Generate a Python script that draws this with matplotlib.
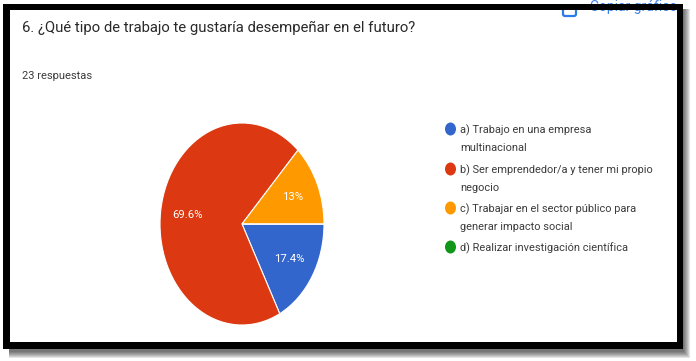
import matplotlib
matplotlib.use('Agg')
import matplotlib.pyplot as plt
from matplotlib.patches import Rectangle, Ellipse, FancyBboxPatch

title = '6. ¿Qué tipo de trabajo te gustaría desempeñar en el futuro?'
subtitle = '23 respuestas'
copy_label = 'Copiar gráfico'

counts = [4, 16, 3, 0]
colors = ['#3366cc', '#dc3912', '#ff9900', '#109618']
legend_lines = [
    ['a) Trabajo en una empresa', 'multinacional'],
    ['b) Ser emprendedor/a y tener mi propio', 'negocio'],
    ['c) Trabajar en el sector público para', 'generar impacto social'],
    ['d) Realizar investigación científica'],
]

W, H = 696, 361
plt.rcParams['font.family'] = ['Roboto', 'DejaVu Sans']

fig = plt.figure(figsize=(W / 100, H / 100), dpi=100, facecolor='white')

# overlay in pixel coords, y going down
bg = fig.add_axes([0, 0, 1, 1])
bg.set_xlim(0, W)
bg.set_ylim(H, 0)
bg.axis('off')

# soft shadow of the frame
for i in range(7):
    bg.add_patch(Rectangle((9, 9), 681 - i, 349 - i, fc='black', alpha=0.1, ec='none'))
bg.add_patch(Rectangle((3, 4), 680, 345, fc='black', ec='none'))
bg.add_patch(Rectangle((10, 10), 667, 332, fc='white', ec='none'))

# copy button is cut off by the frame in the screenshot
bg.text(590, 6.5, copy_label, color='#3b82e8', fontsize=10, ha='left', va='center')
bg.add_patch(FancyBboxPatch((563, 7), 13, 9, boxstyle='round,pad=0,rounding_size=2',
                            fc='none', ec='#2a7de8', lw=1.6))
bg.add_patch(Rectangle((3, 4), 680, 6, fc='black', ec='none', zorder=3))

bg.text(22.5, 28, title, fontsize=10.75, color='#2a2a2a', va='center', ha='left')
bg.text(22.5, 76, subtitle, fontsize=8.0, color='#3c3c3c', va='center', ha='left')


def pct_label(p):
    if p == 0:
        return ''
    return f'{p:.1f}'.rstrip('0').rstrip('.') + '%'


ax = fig.add_axes([160 / W, 1 - 325 / H, 164 / W, 202 / H])
wedges, texts, autotexts = ax.pie(counts, colors=colors, startangle=0, counterclock=False,
                                  autopct=pct_label, pctdistance=0.67,
                                  wedgeprops={'edgecolor': 'white', 'linewidth': 0.8},
                                  textprops={'color': 'white', 'fontsize': 8.2})
ax.set_aspect('auto')
ax.set_xlim(-1, 1)
ax.set_ylim(-1, 1)

marker_y = [129, 169, 208, 247]
for y, c, lines in zip(marker_y, colors, legend_lines):
    bg.add_patch(Ellipse((450.5, y), 11, 13, fc=c, ec='none'))
    for k, line in enumerate(lines):
        bg.text(460.5, y + 1 + k * 18, line, fontsize=7.9, color='#3c3c3c', va='center', ha='left')

fig.savefig('out.png', dpi=100, facecolor='white')
